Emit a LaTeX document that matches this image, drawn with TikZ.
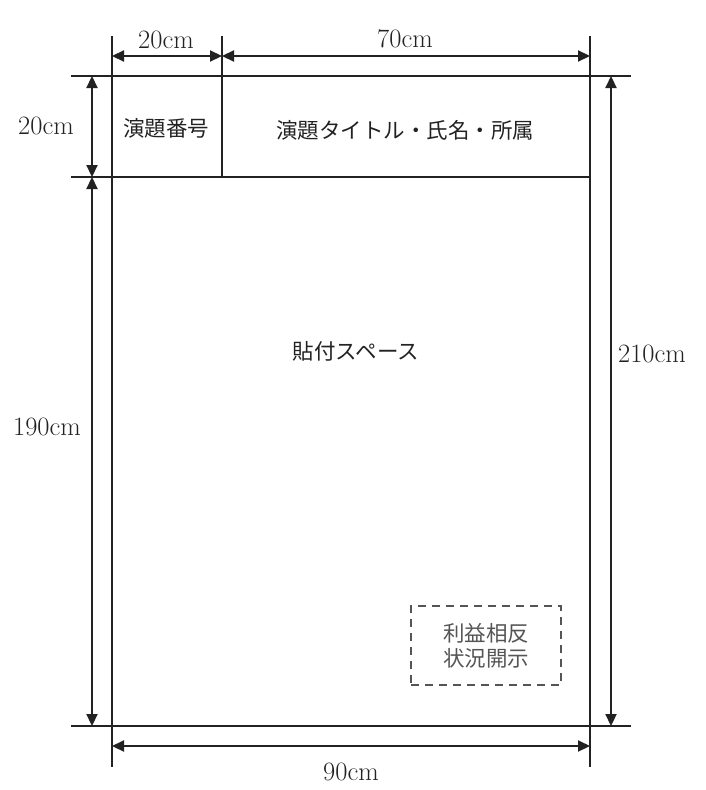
\documentclass[tikz,border=0pt]{standalone}
\usepackage{fontspec}
\newfontfamily\jp{Noto Sans CJK JP}
\usetikzlibrary{arrows.meta}
\definecolor{ink}{HTML}{222222}
\definecolor{greyink}{HTML}{555555}
\tikzset{
  frame/.style={draw=ink, line width=1.6pt},
  thickframe/.style={draw=ink, line width=2pt},
  dimline/.style={draw=ink, line width=2.2pt, {Triangle[length=12pt,width=11pt]}-{Triangle[length=12pt,width=11pt]}},
  numlabel/.style={text=ink, font=\fontsize{26.5}{30}\selectfont, inner sep=0pt},
  jplabel/.style={text=ink, font=\jp\fontsize{21.5}{26}\selectfont, inner sep=0pt},
  coibox/.style={draw=greyink, line width=1.5pt, dash pattern=on 8pt off 6pt, text=greyink,
    font=\jp\fontsize{21.5}{25}\selectfont, align=center, minimum width=150pt, minimum height=79pt, inner sep=0pt}
}
\begin{document}
\begin{tikzpicture}[x=1pt,y=-1pt]
\useasboundingbox (0,0) rectangle (706,790);
% frame coordinates
\coordinate (Ltop) at (112,36);  \coordinate (Lbot) at (112,767);
\coordinate (Mtop) at (222,36);  \coordinate (Mbot) at (222,177);
\coordinate (Rtop) at (590,36);  \coordinate (Rbot) at (590,767);
\coordinate (Tl) at (71,76);     \coordinate (Tr) at (631,76);
\coordinate (Hl) at (71,177);    \coordinate (Hr) at (590,177);
\coordinate (Bl) at (71,726);    \coordinate (Br) at (631,726);
\draw[frame] (Ltop) -- (Lbot);
\draw[frame] (Mtop) -- (Mbot);
\draw[frame] (Rtop) -- (Rbot);
\draw[frame] (Tl) -- (Tr);
\draw[thickframe] (Hl) -- (Hr);
\draw[frame] (Bl) -- (Br);
% dimension coordinates
\coordinate (d1a) at (112,56);  \coordinate (d1b) at (222,56);
\coordinate (d2a) at (222,56);  \coordinate (d2b) at (590,56);
\coordinate (d3a) at (92,76);   \coordinate (d3b) at (92,177);
\coordinate (d4a) at (92,177);  \coordinate (d4b) at (92,726);
\coordinate (d5a) at (611,76);  \coordinate (d5b) at (611,726);
\coordinate (d6a) at (112,746); \coordinate (d6b) at (590,746);
\draw[dimline] (d1a) -- (d1b);
\draw[dimline] (d2a) -- (d2b);
\draw[dimline] (d3a) -- (d3b);
\draw[dimline] (d4a) -- (d4b);
\draw[dimline] (d5a) -- (d5b);
\draw[dimline] (d6a) -- (d6b);
% labels
\node[numlabel] (w20) at (166,40) {20cm};
\node[numlabel] (w70) at (405,39) {70cm};
\node[numlabel] (h20) at (46,126) {20cm};
\node[numlabel] (h190) at (47,427) {190cm};
\node[numlabel] (h210) at (652,354) {210cm};
\node[numlabel] (w90) at (351,772) {90cm};
\node[jplabel] (num) at (166,128) {演題番号};
\node[jplabel] (title) at (405,130) {演題タイトル・氏名・所属};
\node[jplabel] (paste) at (356,351) {貼付スペース};
\node[coibox] (coi) at (486,645.5) {利益相反\\状況開示};
\end{tikzpicture}
\end{document}
